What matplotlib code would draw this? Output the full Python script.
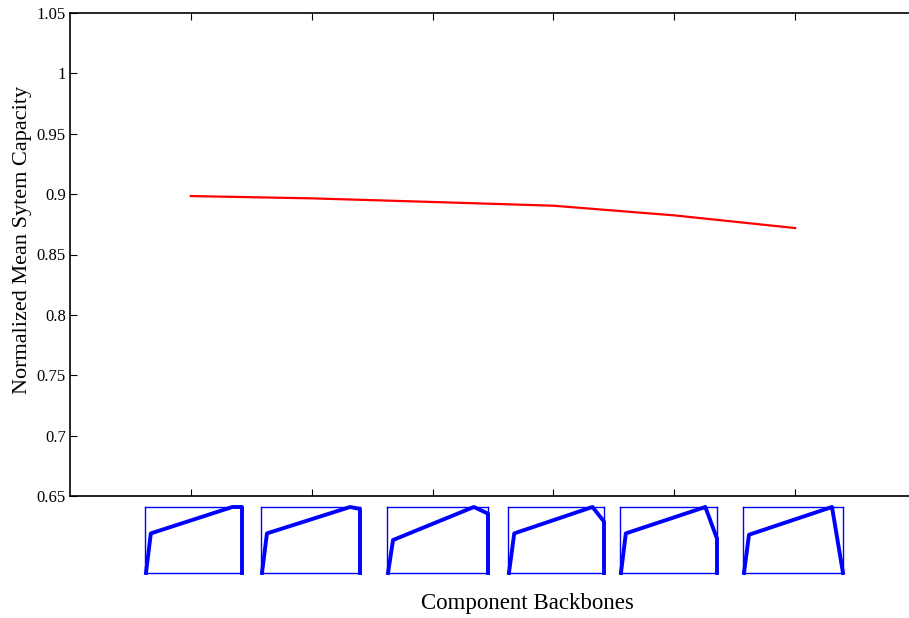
import numpy as np
import matplotlib
matplotlib.use('Agg')
import matplotlib.pyplot as plt

plt.rcParams['font.family'] = ['Liberation Serif', 'DejaVu Serif']

# --- data ---
backbone_idx = [1, 2, 3, 4, 5, 6]
capacity = [0.8984, 0.8965, 0.8935, 0.8904, 0.8824, 0.8719]
y_ticks = [0.65, 0.7, 0.75, 0.8, 0.85, 0.9, 0.95, 1.0, 1.05]
y_ticklabels = ['0.65', '0.7', '0.75', '0.8', '0.85', '0.9', '0.95', '1', '1.05']

# backbone shapes (normalized x, y) for each inset
backbone_x = [
    [0.01, 0.06, 0.90, 1.00, 1.00],
    [0.01, 0.06, 0.90, 1.00, 1.00],
    [0.01, 0.06, 0.86, 1.00, 1.00],
    [0.01, 0.065, 0.88, 1.00, 1.00],
    [0.01, 0.06, 0.88, 1.00, 1.00],
    [0.01, 0.06, 0.89, 1.00, 1.00],
]
backbone_y = [
    [0.0, 0.60, 1.0, 1.00, 0.0],
    [0.0, 0.60, 1.0, 0.97, 0.0],
    [0.0, 0.50, 1.0, 0.90, 0.0],
    [0.0, 0.60, 1.0, 0.78, 0.0],
    [0.0, 0.60, 1.0, 0.52, 0.0],
    [0.0, 0.58, 1.0, 0.00, 0.0],
]

W, H = 909, 618
fig = plt.figure(figsize=(W / 100, H / 100), dpi=100)

# main axes (right edge runs slightly past the figure, as in the original)
ax = fig.add_axes([70 / W, 1 - 496 / H, 846 / W, 483 / H])
ax.plot(backbone_idx, capacity, color='red', linewidth=1.6)
ax.set_xlim(0, 7)
ax.set_ylim(0.65, 1.05)
ax.set_xticks(backbone_idx)
ax.set_xticklabels([])
ax.set_yticks(y_ticks)
ax.set_yticklabels(y_ticklabels)
ax.tick_params(direction='in', length=5, width=0.8, labelsize=12,
               top=True, right=True, pad=3)
for s in ax.spines.values():
    s.set_linewidth(1.2)
ax.set_ylabel('Normalized Mean Sytem Capacity', fontsize=16)
ax.yaxis.set_label_coords((32 - 70) / 846, 0.53)
fig.text(527 / W, 1 - 604 / H, 'Component Backbones', fontsize=16.5,
         ha='center', va='center')

# inset boxes showing each backbone
box_left = [145, 261, 387, 508, 620, 743]
box_w = [97, 99, 101, 96, 97, 100]
for bx, bw, xs, ys in zip(box_left, box_w, backbone_x, backbone_y):
    ia = fig.add_axes([bx / W, 1 - 573 / H, bw / W, 66 / H])
    ia.plot(xs, ys, color='blue', linewidth=2.8, clip_on=False,
            solid_joinstyle='round')
    ia.set_xlim(0, 1)
    ia.set_ylim(0, 1)
    ia.set_xticks([])
    ia.set_yticks([])
    for s in ia.spines.values():
        s.set_color('blue')
        s.set_linewidth(1.0)

fig.savefig('out.png', dpi=100)
